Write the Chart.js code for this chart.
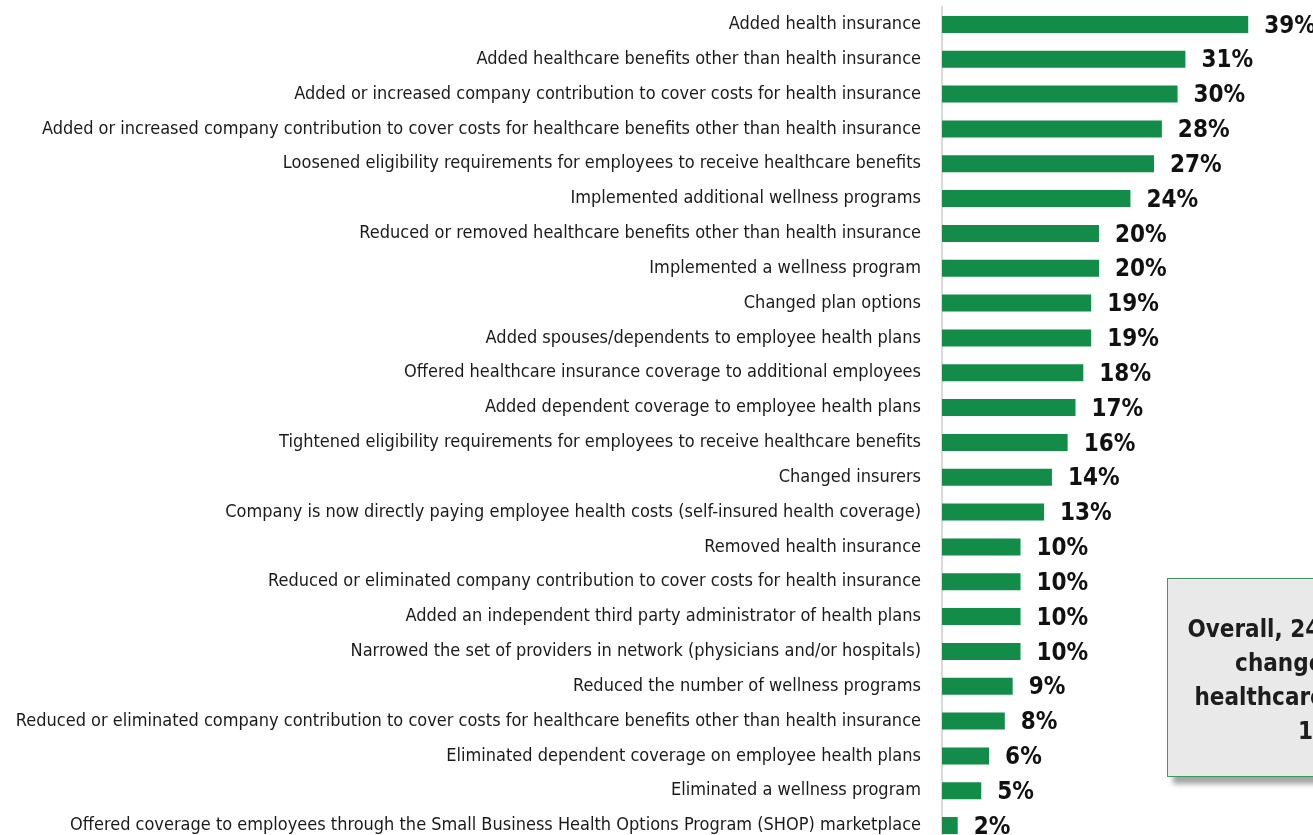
<!DOCTYPE html>
<html>
<head>
<meta charset="utf-8">
<script src="https://cdn.jsdelivr.net/npm/chart.js@4/dist/chart.umd.min.js"></script>
<style>
  html, body { margin: 0; padding: 0; background: #fff; overflow: hidden; }
  #wrap { position: relative; width: 1313px; height: 843px; }
  #note {
    position: absolute; left: 1167px; top: 578px; width: 292px; height: 199px;
    background: #e8e9e8; border: 1.5px solid #3d9a5c; box-sizing: border-box;
    box-shadow: 6px 7px 5px rgba(90, 90, 90, 0.55);
    font: bold 24px "Liberation Sans Narrow", "DejaVu Sans Condensed", sans-serif;
    color: #1d1d1d; text-align: center; line-height: 34px;
    display: flex; align-items: center; justify-content: center;
    padding-top: 5px;
  }
</style>
</head>
<body>
<div id="wrap">
  <canvas id="chart" width="1313" height="843"></canvas>
  <div id="note"><div>Overall, 24% made a<br>changes to a<br>healthcare benefits<br>12</div></div>
</div>
<script>
const categories = [
  'Added health insurance',
  'Added healthcare benefits other than health insurance',
  'Added or increased company contribution to cover costs for health insurance',
  'Added or increased company contribution to cover costs for healthcare benefits other than health insurance',
  'Loosened eligibility requirements for employees to receive healthcare benefits',
  'Implemented additional wellness programs',
  'Reduced or removed healthcare benefits other than health insurance',
  'Implemented a wellness program',
  'Changed plan options',
  'Added spouses/dependents to employee health plans',
  'Offered healthcare insurance coverage to additional employees',
  'Added dependent coverage to employee health plans',
  'Tightened eligibility requirements for employees to receive healthcare benefits',
  'Changed insurers',
  'Company is now directly paying employee health costs (self-insured health coverage)',
  'Removed health insurance',
  'Reduced or eliminated company contribution to cover costs for health insurance',
  'Added an independent third party administrator of health plans',
  'Narrowed the set of providers in network (physicians and/or hospitals)',
  'Reduced the number of wellness programs',
  'Reduced or eliminated company contribution to cover costs for healthcare benefits other than health insurance',
  'Eliminated dependent coverage on employee health plans',
  'Eliminated a wellness program',
  'Offered coverage to employees through the Small Business Health Options Program (SHOP) marketplace'
];
const percentages = [39, 31, 30, 28, 27, 24, 20, 20, 19, 19, 18, 17, 16, 14, 13, 10, 10, 10, 10, 9, 8, 6, 5, 2];

const FONT = '"Liberation Sans Narrow", "DejaVu Sans Condensed", sans-serif';

// percentage labels just past the end of each bar
const valueLabels = {
  id: 'valueLabels',
  afterDatasetsDraw(chart) {
    const ctx = chart.ctx;
    const meta = chart.getDatasetMeta(0);
    ctx.save();
    ctx.font = 'bold 24px ' + FONT;
    ctx.fillStyle = '#111';
    ctx.textAlign = 'left';
    ctx.textBaseline = 'middle';
    meta.data.forEach((bar, i) => {
      ctx.fillText(percentages[i] + '%', bar.x + 16, bar.y + 2);
    });
    ctx.restore();
  }
};

new Chart(document.getElementById('chart'), {
  type: 'bar',
  data: {
    labels: categories,
    datasets: [{
      data: percentages,
      backgroundColor: '#128c48',
      categoryPercentage: 0.49,
      barPercentage: 1
    }]
  },
  options: {
    indexAxis: 'y',
    responsive: false,
    animation: false,
    layout: { padding: { top: 7, right: 0, bottom: 0, left: 0 } },
    plugins: { legend: { display: false }, tooltip: { enabled: false } },
    scales: {
      x: { display: false, min: 0, max: 47.25 },
      y: {
        afterFit(scale) {
          scale.width = 942;
          scale.paddingTop = 0;
          scale.paddingBottom = 0;
        },
        grid: { display: false },
        border: { display: true, color: '#d9d9d9', width: 2 },
        ticks: {
          autoSkip: false,
          padding: 13,
          color: '#1a1a1a',
          font: { family: FONT, size: 18 }
        }
      }
    }
  },
  plugins: [valueLabels]
});
</script>
</body>
</html>
